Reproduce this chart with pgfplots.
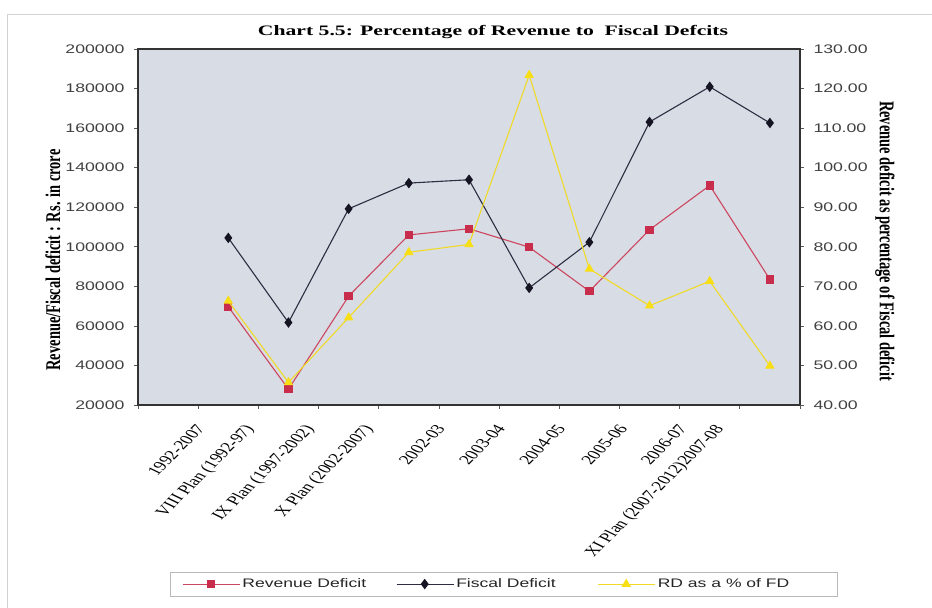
\documentclass[border=0pt]{standalone}
\usepackage{pgfplots}
\pgfplotsset{compat=1.18}
\usepackage{pgfplotstable}
\usepackage{fontspec}
\setmainfont{Liberation Serif}
\newfontfamily\tickfont[FakeStretch=1.42]{Liberation Sans}
\newfontfamily\titlefont[FakeStretch=1.5]{Liberation Serif}

\definecolor{bgc}{RGB}{216,220,229}
\definecolor{rdc}{RGB}{205,70,95}
\definecolor{rdm}{RGB}{200,45,75}
\definecolor{fdc}{RGB}{45,45,65}
\definecolor{fdm}{RGB}{20,20,35}
\definecolor{ylc}{RGB}{240,218,40}
\definecolor{ylm}{RGB}{248,222,20}
\definecolor{tkc}{RGB}{65,65,65}

\pgfplotstableread{
x RD FD
1 69700 104500
2 28000 61700
3 75000 119200
4 106000 132200
5 109100 133900
6 99800 79200
7 77500 102300
8 108600 163100
9 131000 180900
10 83500 162600
}\deficits

\pgfplotstableread{
x PCT
1 66.3
2 45.7
3 62.1
4 78.6
5 80.6
6 123.4
7 74.4
8 65.1
9 71.3
10 49.9
}\pct

\pgfplotsset{
  rdstyle/.style={color=rdc, line width=1.1bp, mark=square*, mark size=3.6bp, mark options={fill=rdm, draw=rdm}},
  fdstyle/.style={color=fdc, line width=1.1bp, mark=diamond*, mark size=4.4bp, mark options={fill=fdm, draw=fdm}},
  ylstyle/.style={color=ylc, line width=1.1bp, mark=triangle*, mark size=4.4bp, mark options={fill=ylm, draw=ylm}},
}

\begin{document}
\begin{tikzpicture}
\useasboundingbox (-138bp,-203bp) rectangle (794bp,405bp);
% outer chart frame (top and left edges)
\draw[gray!35, line width=0.8bp] (-131bp,-203bp) -- (-131bp,391bp) -- (794bp,391bp);

\begin{axis}[
  scale only axis, width=662bp, height=356bp,
  at={(0,0)}, anchor=south west,
  xmin=-0.5, xmax=10.5, ymin=20000, ymax=200000,
  ytick={20000,40000,...,200000},
  ytick pos=left, xtick pos=bottom,
  axis background/.style={fill=bgc},
  axis line style={draw=black!80, line width=1.2bp},
  tick style={black!65, line width=0.7bp},
  major tick length=4bp, tick align=outside,
  xtick={-0.5,0.5,...,10.5}, xticklabels={},
  extra x ticks={0.44,1.24,2.24,3.22,4.43,5.43,6.43,7.46,8.45,9.05},
  extra x tick labels={1992-2007,VIII Plan (1992-97),IX Plan (1997-2002),X Plan (2002-2007),2002-03,2003-04,2004-05,2005-06,2006-07,XI Plan (2007-2012)2007-08},
  extra x tick style={major tick length=0pt,
    xticklabel style={font=\fontsize{13.5}{15}\selectfont, yshift=-17bp, xscale=1.45, rotate=55, anchor=north east, inner sep=1bp}},
  scaled y ticks=false,
  yticklabel={\pgfmathprintnumber[fixed, precision=0, set thousands separator={}, assume math mode=true]{\tick}},
  yticklabel style={font=\tickfont\fontsize{12.5}{14}\selectfont, text=tkc, xshift=-6bp},
  clip=false
]
\addplot[rdstyle] table[x=x, y=RD] {\deficits};
\addplot[fdstyle] table[x=x, y=FD] {\deficits};
\end{axis}

\begin{axis}[
  scale only axis, width=662bp, height=356bp,
  at={(0,0)}, anchor=south west,
  xmin=-0.5, xmax=10.5, ymin=40, ymax=130,
  ytick={40,50,...,130},
  axis x line=none, axis y line*=right,
  axis line style={draw=black!80, line width=1.2bp},
  tick style={black!65, line width=0.7bp},
  major tick length=4bp, tick align=outside,
  yticklabel={\pgfmathprintnumber[fixed, fixed zerofill, precision=2, assume math mode=true]{\tick}},
  yticklabel style={font=\tickfont\fontsize{12.5}{14}\selectfont, text=tkc, xshift=6bp},
  clip=false,
  legend columns=3,
  legend style={at={(0.0483,-0.503)}, anchor=west, draw=gray!55, line width=0.6bp,
    font=\tickfont\fontsize{12.4}{14}\selectfont, text=black!85,
    inner xsep=12bp, inner ysep=5bp,
    /tikz/every even column/.append style={column sep=28bp}},
  legend cell align=left,
  /pgfplots/legend image code/.code={\draw[mark repeat=2,mark phase=2,#1] plot coordinates {(0bp,0bp) (28bp,0bp) (57bp,0bp)};}
]
\addlegendimage{rdstyle}
\addlegendentry{Revenue Deficit}
\addlegendimage{fdstyle}
\addlegendentry{Fiscal Deficit\hspace*{12bp}}
\addplot[ylstyle] table[x=x, y=PCT] {\pct};
\addlegendentry{RD as a \% of FD\hspace*{34bp}}
\end{axis}

\node[font=\titlefont\bfseries\fontsize{14.5}{16}\selectfont] at (355bp,373bp) {Chart 5.5: Percentage of Revenue to\ \ Fiscal Defcits};
\node[font=\bfseries\fontsize{14.5}{16}\selectfont, xscale=1.45, rotate=90] at (-85bp,145bp) {Revenue/Fiscal deficit : Rs. in crore};
\node[font=\bfseries\fontsize{14.5}{16}\selectfont, xscale=1.45, rotate=-90] at (747bp,164bp) {Revenue deficit as percentage of Fiscal deficit};
\end{tikzpicture}
\end{document}
